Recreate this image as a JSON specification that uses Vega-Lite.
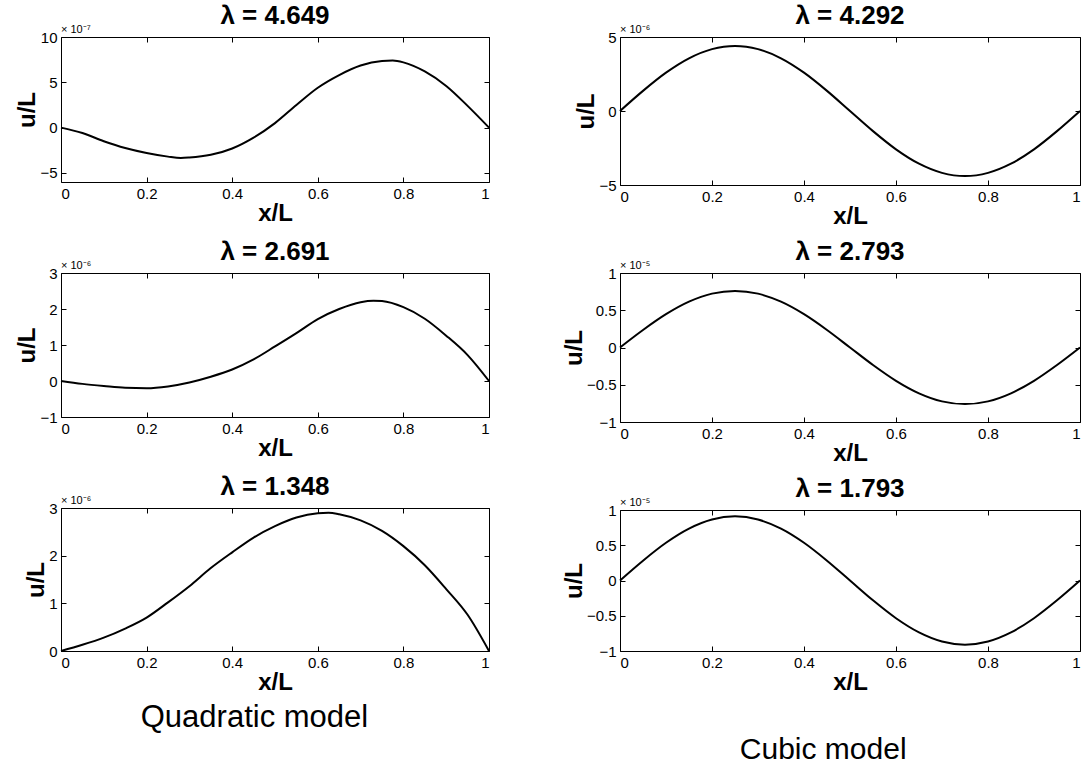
{
  "$schema": "https://vega.github.io/schema/vega-lite/v6.json",
  "background": "white",
  "padding": {"left": 15, "top": 2, "right": -3, "bottom": 0},
  "config": {
    "font": "Liberation Sans",
    "view": {"stroke": "black", "strokeWidth": 1},
    "title": {"font": "Liberation Sans", "fontSize": 26, "fontWeight": "bold", "color": "black", "offset": -5},
    "axis": {"labelFont": "Liberation Sans", "labelFontSize": 15, "labelColor": "black", "titleFont": "Liberation Sans", "titleFontSize": 24, "titleFontWeight": "bold", "titleColor": "black", "domain": false, "grid": false, "tickColor": "black", "tickSize": -5, "labelPadding": 9, "titlePadding": 0}
  },
  "spacing": 67,
  "hconcat": [
    {
      "spacing": 12,
      "title": {"text": "Quadratic model", "orient": "bottom", "anchor": "middle", "fontSize": 31, "fontWeight": "normal", "offset": 8},
      "vconcat": [
        {
          "width": 428, "height": 145,
          "title": "λ = 4.649",
          "data": {"values": [
            {"x": 0, "u": 0}, {"x": 0.05, "u": -0.6}, {"x": 0.1, "u": -1.5}, {"x": 0.15, "u": -2.25}, {"x": 0.2, "u": -2.8}, {"x": 0.25, "u": -3.2}, {"x": 0.28, "u": -3.35}, {"x": 0.3, "u": -3.3}, {"x": 0.35, "u": -3.0}, {"x": 0.4, "u": -2.3}, {"x": 0.45, "u": -1.1}, {"x": 0.5, "u": 0.5}, {"x": 0.55, "u": 2.5}, {"x": 0.6, "u": 4.4}, {"x": 0.65, "u": 5.8}, {"x": 0.7, "u": 6.85}, {"x": 0.75, "u": 7.35}, {"x": 0.775, "u": 7.4}, {"x": 0.8, "u": 7.2}, {"x": 0.85, "u": 6.2}, {"x": 0.9, "u": 4.6}, {"x": 0.95, "u": 2.4}, {"x": 1, "u": 0}
          ]},
          "layer": [
            {
              "mark": {"type": "line", "color": "black", "strokeWidth": 2, "interpolate": "monotone"},
              "encoding": {
                "x": {"field": "x", "type": "quantitative", "scale": {"domain": [0, 1]}, "axis": {"values": [0, 0.2, 0.4, 0.6, 0.8, 1], "format": "~g", "title": "x/L"}},
                "y": {"field": "u", "type": "quantitative", "scale": {"domain": [-5, 10]}, "axis": {"values": [-5, 0, 5, 10], "title": "u/L"}}
              }
            },
            {
              "data": {"values": [{"t": "× 10⁻⁷"}]},
              "mark": {"type": "text", "align": "left", "baseline": "bottom", "dy": -2, "fontSize": 11, "color": "black"},
              "encoding": {
                "text": {"field": "t"},
                "x": {"datum": 0, "type": "quantitative", "axis": {"orient": "top", "values": [0, 0.2, 0.4, 0.6, 0.8, 1], "labels": false, "title": null}},
                "y": {"datum": 10, "type": "quantitative", "axis": {"orient": "right", "values": [-5, 0, 5, 10], "labels": false, "title": null}}
              }
            }
          ],
          "resolve": {"axis": {"x": "independent", "y": "independent"}}
        },
        {
          "width": 428, "height": 144,
          "title": "λ = 2.691",
          "data": {"values": [
            {"x": 0, "u": 0}, {"x": 0.05, "u": -0.08}, {"x": 0.1, "u": -0.14}, {"x": 0.15, "u": -0.19}, {"x": 0.2, "u": -0.2}, {"x": 0.25, "u": -0.15}, {"x": 0.3, "u": -0.04}, {"x": 0.35, "u": 0.12}, {"x": 0.4, "u": 0.32}, {"x": 0.45, "u": 0.6}, {"x": 0.5, "u": 0.96}, {"x": 0.55, "u": 1.33}, {"x": 0.6, "u": 1.72}, {"x": 0.65, "u": 2.0}, {"x": 0.7, "u": 2.19}, {"x": 0.73, "u": 2.23}, {"x": 0.75, "u": 2.22}, {"x": 0.8, "u": 2.05}, {"x": 0.85, "u": 1.73}, {"x": 0.9, "u": 1.26}, {"x": 0.95, "u": 0.72}, {"x": 1, "u": 0}
          ]},
          "layer": [
            {
              "mark": {"type": "line", "color": "black", "strokeWidth": 2, "interpolate": "monotone"},
              "encoding": {
                "x": {"field": "x", "type": "quantitative", "scale": {"domain": [0, 1]}, "axis": {"values": [0, 0.2, 0.4, 0.6, 0.8, 1], "format": "~g", "title": "x/L"}},
                "y": {"field": "u", "type": "quantitative", "scale": {"domain": [-1, 3]}, "axis": {"values": [-1, 0, 1, 2, 3], "title": "u/L"}}
              }
            },
            {
              "data": {"values": [{"t": "× 10⁻⁶"}]},
              "mark": {"type": "text", "align": "left", "baseline": "bottom", "dy": -2, "fontSize": 11, "color": "black"},
              "encoding": {
                "text": {"field": "t"},
                "x": {"datum": 0, "type": "quantitative", "axis": {"orient": "top", "values": [0, 0.2, 0.4, 0.6, 0.8, 1], "labels": false, "title": null}},
                "y": {"datum": 3, "type": "quantitative", "axis": {"orient": "right", "values": [-1, 0, 1, 2, 3], "labels": false, "title": null}}
              }
            }
          ],
          "resolve": {"axis": {"x": "independent", "y": "independent"}}
        },
        {
          "width": 428, "height": 143,
          "title": "λ = 1.348",
          "data": {"values": [
            {"x": 0, "u": 0}, {"x": 0.05, "u": 0.13}, {"x": 0.1, "u": 0.28}, {"x": 0.15, "u": 0.47}, {"x": 0.2, "u": 0.7}, {"x": 0.25, "u": 1.02}, {"x": 0.3, "u": 1.36}, {"x": 0.35, "u": 1.74}, {"x": 0.4, "u": 2.07}, {"x": 0.45, "u": 2.38}, {"x": 0.5, "u": 2.62}, {"x": 0.55, "u": 2.8}, {"x": 0.6, "u": 2.89}, {"x": 0.625, "u": 2.9}, {"x": 0.65, "u": 2.87}, {"x": 0.7, "u": 2.74}, {"x": 0.75, "u": 2.52}, {"x": 0.8, "u": 2.2}, {"x": 0.85, "u": 1.8}, {"x": 0.9, "u": 1.3}, {"x": 0.95, "u": 0.76}, {"x": 1, "u": 0}
          ]},
          "layer": [
            {
              "mark": {"type": "line", "color": "black", "strokeWidth": 2, "interpolate": "monotone"},
              "encoding": {
                "x": {"field": "x", "type": "quantitative", "scale": {"domain": [0, 1]}, "axis": {"values": [0, 0.2, 0.4, 0.6, 0.8, 1], "format": "~g", "title": "x/L"}},
                "y": {"field": "u", "type": "quantitative", "scale": {"domain": [0, 3]}, "axis": {"values": [0, 1, 2, 3], "title": "u/L"}}
              }
            },
            {
              "data": {"values": [{"t": "× 10⁻⁶"}]},
              "mark": {"type": "text", "align": "left", "baseline": "bottom", "dy": -2, "fontSize": 11, "color": "black"},
              "encoding": {
                "text": {"field": "t"},
                "x": {"datum": 0, "type": "quantitative", "axis": {"orient": "top", "values": [0, 0.2, 0.4, 0.6, 0.8, 1], "labels": false, "title": null}},
                "y": {"datum": 3, "type": "quantitative", "axis": {"orient": "right", "values": [0, 1, 2, 3], "labels": false, "title": null}}
              }
            }
          ],
          "resolve": {"axis": {"x": "independent", "y": "independent"}}
        }
      ]
    },
    {
      "spacing": 9,
      "title": {"text": "Cubic model", "orient": "bottom", "anchor": "middle", "fontSize": 30, "fontWeight": "normal", "offset": 40},
      "vconcat": [
        {
          "width": 460, "height": 148,
          "title": "λ = 4.292",
          "data": {"values": [
            {"x": 0, "u": 0}, {"x": 0.05, "u": 1.36}, {"x": 0.1, "u": 2.59}, {"x": 0.15, "u": 3.56}, {"x": 0.2, "u": 4.18}, {"x": 0.25, "u": 4.4}, {"x": 0.3, "u": 4.18}, {"x": 0.35, "u": 3.56}, {"x": 0.4, "u": 2.59}, {"x": 0.45, "u": 1.36}, {"x": 0.5, "u": 0}, {"x": 0.55, "u": -1.36}, {"x": 0.6, "u": -2.59}, {"x": 0.65, "u": -3.56}, {"x": 0.7, "u": -4.18}, {"x": 0.75, "u": -4.4}, {"x": 0.8, "u": -4.18}, {"x": 0.85, "u": -3.56}, {"x": 0.9, "u": -2.59}, {"x": 0.95, "u": -1.36}, {"x": 1, "u": 0}
          ]},
          "layer": [
            {
              "mark": {"type": "line", "color": "black", "strokeWidth": 2, "interpolate": "monotone"},
              "encoding": {
                "x": {"field": "x", "type": "quantitative", "scale": {"domain": [0, 1]}, "axis": {"values": [0, 0.2, 0.4, 0.6, 0.8, 1], "format": "~g", "title": "x/L"}},
                "y": {"field": "u", "type": "quantitative", "scale": {"domain": [-5, 5]}, "axis": {"values": [-5, 0, 5], "title": "u/L"}}
              }
            },
            {
              "data": {"values": [{"t": "× 10⁻⁶"}]},
              "mark": {"type": "text", "align": "left", "baseline": "bottom", "dy": -2, "fontSize": 11, "color": "black"},
              "encoding": {
                "text": {"field": "t"},
                "x": {"datum": 0, "type": "quantitative", "axis": {"orient": "top", "values": [0, 0.2, 0.4, 0.6, 0.8, 1], "labels": false, "title": null}},
                "y": {"datum": 5, "type": "quantitative", "axis": {"orient": "right", "values": [-5, 0, 5], "labels": false, "title": null}}
              }
            }
          ],
          "resolve": {"axis": {"x": "independent", "y": "independent"}}
        },
        {
          "width": 460, "height": 149,
          "title": "λ = 2.793",
          "data": {"values": [
            {"x": 0, "u": 0}, {"x": 0.05, "u": 0.235}, {"x": 0.1, "u": 0.447}, {"x": 0.15, "u": 0.615}, {"x": 0.2, "u": 0.723}, {"x": 0.25, "u": 0.76}, {"x": 0.3, "u": 0.723}, {"x": 0.35, "u": 0.615}, {"x": 0.4, "u": 0.447}, {"x": 0.45, "u": 0.235}, {"x": 0.5, "u": 0}, {"x": 0.55, "u": -0.235}, {"x": 0.6, "u": -0.447}, {"x": 0.65, "u": -0.615}, {"x": 0.7, "u": -0.723}, {"x": 0.75, "u": -0.76}, {"x": 0.8, "u": -0.723}, {"x": 0.85, "u": -0.615}, {"x": 0.9, "u": -0.447}, {"x": 0.95, "u": -0.235}, {"x": 1, "u": 0}
          ]},
          "layer": [
            {
              "mark": {"type": "line", "color": "black", "strokeWidth": 2, "interpolate": "monotone"},
              "encoding": {
                "x": {"field": "x", "type": "quantitative", "scale": {"domain": [0, 1]}, "axis": {"values": [0, 0.2, 0.4, 0.6, 0.8, 1], "format": "~g", "title": "x/L"}},
                "y": {"field": "u", "type": "quantitative", "scale": {"domain": [-1, 1]}, "axis": {"values": [-1, -0.5, 0, 0.5, 1], "format": "~g", "title": "u/L"}}
              }
            },
            {
              "data": {"values": [{"t": "× 10⁻⁵"}]},
              "mark": {"type": "text", "align": "left", "baseline": "bottom", "dy": -2, "fontSize": 11, "color": "black"},
              "encoding": {
                "text": {"field": "t"},
                "x": {"datum": 0, "type": "quantitative", "axis": {"orient": "top", "values": [0, 0.2, 0.4, 0.6, 0.8, 1], "labels": false, "title": null}},
                "y": {"datum": 1, "type": "quantitative", "axis": {"orient": "right", "values": [-1, -0.5, 0, 0.5, 1], "labels": false, "title": null}}
              }
            }
          ],
          "resolve": {"axis": {"x": "independent", "y": "independent"}}
        },
        {
          "width": 460, "height": 141,
          "title": "λ = 1.793",
          "data": {"values": [
            {"x": 0, "u": 0}, {"x": 0.05, "u": 0.281}, {"x": 0.1, "u": 0.535}, {"x": 0.15, "u": 0.736}, {"x": 0.2, "u": 0.865}, {"x": 0.25, "u": 0.91}, {"x": 0.3, "u": 0.865}, {"x": 0.35, "u": 0.736}, {"x": 0.4, "u": 0.535}, {"x": 0.45, "u": 0.281}, {"x": 0.5, "u": 0}, {"x": 0.55, "u": -0.281}, {"x": 0.6, "u": -0.535}, {"x": 0.65, "u": -0.736}, {"x": 0.7, "u": -0.865}, {"x": 0.75, "u": -0.91}, {"x": 0.8, "u": -0.865}, {"x": 0.85, "u": -0.736}, {"x": 0.9, "u": -0.535}, {"x": 0.95, "u": -0.281}, {"x": 1, "u": 0}
          ]},
          "layer": [
            {
              "mark": {"type": "line", "color": "black", "strokeWidth": 2, "interpolate": "monotone"},
              "encoding": {
                "x": {"field": "x", "type": "quantitative", "scale": {"domain": [0, 1]}, "axis": {"values": [0, 0.2, 0.4, 0.6, 0.8, 1], "format": "~g", "title": "x/L"}},
                "y": {"field": "u", "type": "quantitative", "scale": {"domain": [-1, 1]}, "axis": {"values": [-1, -0.5, 0, 0.5, 1], "format": "~g", "title": "u/L"}}
              }
            },
            {
              "data": {"values": [{"t": "× 10⁻⁵"}]},
              "mark": {"type": "text", "align": "left", "baseline": "bottom", "dy": -2, "fontSize": 11, "color": "black"},
              "encoding": {
                "text": {"field": "t"},
                "x": {"datum": 0, "type": "quantitative", "axis": {"orient": "top", "values": [0, 0.2, 0.4, 0.6, 0.8, 1], "labels": false, "title": null}},
                "y": {"datum": 1, "type": "quantitative", "axis": {"orient": "right", "values": [-1, -0.5, 0, 0.5, 1], "labels": false, "title": null}}
              }
            }
          ],
          "resolve": {"axis": {"x": "independent", "y": "independent"}}
        }
      ]
    }
  ]
}
